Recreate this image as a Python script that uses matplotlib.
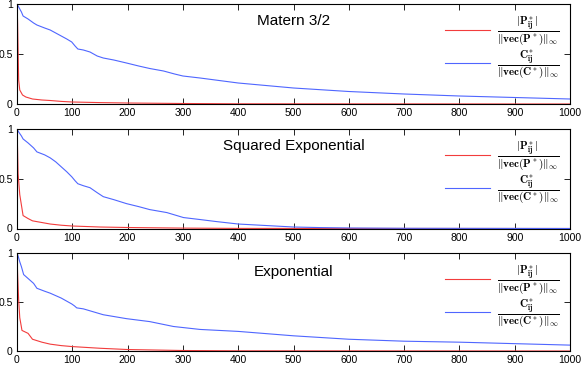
import numpy as np
import matplotlib
matplotlib.use('Agg')
import matplotlib.pyplot as plt

plt.rcParams['font.family'] = ['Liberation Sans', 'DejaVu Sans']
plt.rcParams['mathtext.fontset'] = 'cm'

titles = ['Matern 3/2', 'Squared Exponential', 'Exponential']

# Matern 3/2
m_x_p = [0, 1, 3, 5, 10, 16, 28, 45, 60, 80, 100, 150, 200, 300, 400, 1000]
m_p = [1.0, 0.83, 0.24, 0.14, 0.09, 0.07, 0.05, 0.04, 0.035, 0.026, 0.02, 0.014, 0.01,
       0.005, 0.002, 0.0]
m_x_c = [0, 3, 8, 11, 20, 30, 36, 50, 60, 70, 80, 90, 99, 105, 110, 120, 132, 145,
         156, 175, 198, 220, 240, 265, 285, 300, 331, 400, 500, 600, 700, 800, 900, 1000]
m_c = [1.0, 0.97, 0.92, 0.88, 0.85, 0.81, 0.79, 0.76, 0.74, 0.71, 0.68, 0.65, 0.62,
       0.58, 0.55, 0.54, 0.52, 0.48, 0.46, 0.44, 0.41, 0.38, 0.355, 0.33, 0.30, 0.28,
       0.26, 0.21, 0.16, 0.125, 0.10, 0.08, 0.065, 0.05]

# Squared exponential
s_x_p = [0, 1, 2, 5, 11, 20, 28, 45, 60, 80, 100, 150, 200, 300, 400, 1000]
s_p = [1.0, 0.8, 0.55, 0.34, 0.13, 0.10, 0.077, 0.06, 0.045, 0.033, 0.025, 0.015, 0.01,
       0.004, 0.001, 0.0]
s_x_c = [0, 3, 8, 11, 20, 30, 36, 50, 60, 70, 80, 90, 99, 105, 110, 120, 132, 145,
         156, 175, 198, 220, 240, 271, 301, 331, 360, 400, 450, 500, 550, 600, 700, 1000]
s_c = [1.0, 0.97, 0.93, 0.90, 0.86, 0.81, 0.77, 0.74, 0.71, 0.67, 0.62, 0.57, 0.52,
       0.48, 0.45, 0.43, 0.41, 0.36, 0.32, 0.29, 0.25, 0.22, 0.19, 0.16, 0.11, 0.09,
       0.07, 0.045, 0.03, 0.015, 0.009, 0.005, 0.002, 0.0]

# Exponential
e_x_p = [0, 1, 3, 5, 9, 20, 28, 45, 60, 80, 100, 150, 200, 300, 400, 1000]
e_p = [1.0, 0.8, 0.52, 0.34, 0.21, 0.18, 0.12, 0.09, 0.07, 0.055, 0.045, 0.028, 0.015,
       0.005, 0.002, 0.0]
e_x_c = [0, 2, 5, 8, 12, 20, 30, 36, 50, 60, 80, 99, 104, 108, 120, 132, 156, 198,
         240, 283, 331, 400, 500, 600, 700, 800, 900, 1000]
e_c = [1.0, 0.97, 0.91, 0.86, 0.78, 0.74, 0.69, 0.64, 0.61, 0.59, 0.54, 0.48, 0.46,
       0.44, 0.43, 0.41, 0.37, 0.33, 0.30, 0.25, 0.22, 0.20, 0.155, 0.12, 0.10, 0.09,
       0.075, 0.06]

panels = [(m_x_p, m_p, m_x_c, m_c), (s_x_p, s_p, s_x_c, s_c), (e_x_p, e_p, e_x_c, e_c)]
title_y = [0.83, 0.83, 0.81]

lab_p = r'$\frac{|\mathbf{P}^*_{\mathbf{ij}}|}{\|\mathbf{vec}(\mathbf{P}^*)\|_\infty}$'
lab_c = r'$\frac{\mathbf{C}^*_{\mathbf{ij}}}{\|\mathbf{vec}(\mathbf{C}^*)\|_\infty}$'

fig = plt.figure(figsize=(5.81, 3.66), dpi=100)
W, H = 581.0, 366.0
boxes = [(4, 104), (129, 228.5), (253, 351)]  # top, bottom pixel rows

for i in range(3):
    top, bot = boxes[i]
    ax = fig.add_axes([17 / W, 1 - bot / H, 553 / W, (bot - top) / H])
    xp, p, xc, c = panels[i]
    ax.plot(xp, p, color='#f23c3c', lw=0.8, label=lab_p)
    ax.plot(xc, c, color='#4f66ff', lw=0.8, label=lab_c)
    ax.set_xlim(0, 1000)
    ax.set_ylim(0, 1)
    ax.set_xticks(np.arange(0, 1001, 100))
    ax.set_yticks([0, 0.5, 1])
    ax.set_yticklabels(['0', '0.5', '1'])
    ax.tick_params(direction='in', top=True, right=True, length=4, width=0.6,
                   labelsize=7.5, pad=3)
    for s in ax.spines.values():
        s.set_linewidth(0.8)
    ax.text(0.5, title_y[i], titles[i], transform=ax.transAxes, ha='center',
            va='center', fontsize=11)
    leg = ax.legend(loc='upper right', fontsize=11.5, frameon=True, fancybox=False,
                    handlelength=2.8, borderaxespad=0.5, labelspacing=0.0,
                    handletextpad=0.45, borderpad=0.15)
    leg.get_frame().set_edgecolor('none')
    leg.get_frame().set_facecolor('white')
    leg.get_frame().set_alpha(1)

plt.savefig('out.png', dpi=100)
